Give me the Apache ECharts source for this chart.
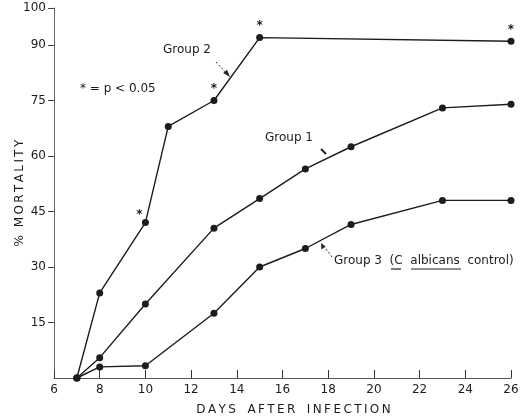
<!DOCTYPE html>
<html lang="en">
<head>
<meta charset="UTF-8">
<title>Mortality after infection</title>
<script src="https://cdn.jsdelivr.net/npm/echarts@6/dist/echarts.min.js"></script>
<style>html,body{margin:0;background:#fff}</style>
</head>
<body>
<div id="main" style="width:529px;height:419px"></div>
<script>
// data (days after infection, % mortality)
var days2 = [7, 8, 10, 11, 13, 15, 26];
var group2 = [0, 23, 42, 68, 75, 92, 91];
var days1 = [7, 8, 10, 13, 15, 17, 19, 23, 26];
var group1 = [0, 5.5, 20, 40.5, 48.5, 56.5, 62.5, 73, 74];
var days3 = [7, 8, 10, 13, 15, 17, 19, 23, 26];
var group3 = [0, 3, 3.3, 17.5, 30, 35, 41.5, 48, 48];
// days where group 2 differs (p < 0.05)
var sigDays = [10, 13, 15, 26];

var ink = '#1c1c1c';
var font = 'DejaVu Sans';

// spread letters a little, like the stencil lettering of the original
function spaced(s) {
    return s.split('').join('\u2009');
}

function pairs(xs, ys) {
    var out = [];
    for (var i = 0; i < xs.length; i++) out.push([xs[i], ys[i]]);
    return out;
}

var data2 = [];
for (var i = 0; i < days2.length; i++) {
    var item = {value: [days2[i], group2[i]]};
    if (sigDays.indexOf(days2[i]) >= 0) {
        item.label = {show: true, formatter: '*', position: 'top', distance: 2,
            fontSize: 12, fontWeight: 'bold', color: ink, fontFamily: font};
        if (days2[i] === 10) item.label.offset = [-6, 4];
    }
    data2.push(item);
}

function lineSeries(name, data) {
    return {
        name: name,
        type: 'line',
        data: data,
        symbol: 'circle',
        symbolSize: 7,
        itemStyle: {color: ink},
        lineStyle: {color: ink, width: 1.4},
        animation: false
    };
}

var myChart = echarts.init(document.getElementById('main'));
var option = {
    backgroundColor: '#fff',
    grid: {left: 54, right: 18, top: 8, bottom: 41, outerBoundsMode: 'none'},
    xAxis: {
        type: 'value', min: 6, max: 26, interval: 2,
        name: spaced('DAYS') + '   ' + spaced('AFTER') + '   ' + spaced('INFECTION'),
        nameLocation: 'middle', nameGap: 26, nameMoveOverlap: false,
        nameTextStyle: {color: ink, fontFamily: font, fontSize: 12, padding: [0, 0, 0, 22]},
        axisLine: {lineStyle: {color: '#555', width: 1}},
        axisTick: {inside: true, length: 8, lineStyle: {color: '#333'}},
        axisLabel: {color: ink, fontFamily: font, fontSize: 12, margin: 6},
        splitLine: {show: false}
    },
    yAxis: {
        type: 'value', min: 0, max: 100, interval: 15,
        name: '%  ' + spaced('MORTALITY'), nameLocation: 'middle', nameGap: 28, nameMoveOverlap: false,
        nameTextStyle: {color: ink, fontFamily: font, fontSize: 12},
        axisLine: {show: true, lineStyle: {color: '#666', width: 1}},
        axisTick: {show: true, length: 6, lineStyle: {color: '#444'}},
        axisLabel: {color: ink, fontFamily: font, fontSize: 12, margin: 8, showMinLabel: false},
        splitLine: {show: false}
    },
    series: [
        lineSeries('Group 2', data2),
        lineSeries('Group 1', pairs(days1, group1)),
        lineSeries('Group 3', pairs(days3, group3))
    ],
    graphic: [
        {type: 'text', left: 163, top: 44, style: {text: 'Group 2', fill: ink, font: '12px "DejaVu Sans"'}},
        {type: 'line', shape: {x1: 216, y1: 62, x2: 229, y2: 76}, style: {stroke: '#333', lineWidth: 1, lineDash: [2, 2]}},
        {type: 'polygon', shape: {points: [[230, 77], [227, 69.8], [223.2, 73]]}, style: {fill: '#222'}},
        {type: 'text', left: 80, top: 83, style: {text: '* = p < 0.05', fill: ink, font: '12px "DejaVu Sans"'}},
        {type: 'text', left: 265, top: 132, style: {text: 'Group 1', fill: ink, font: '12px "DejaVu Sans"'}},
        {type: 'line', shape: {x1: 321, y1: 149, x2: 326, y2: 154}, style: {stroke: '#222', lineWidth: 2}},
        {type: 'text', left: 334, top: 255, style: {text: 'Group 3  (C  albicans  control)', fill: ink, font: '12px "DejaVu Sans"'}},
        {type: 'line', shape: {x1: 391, y1: 269, x2: 401, y2: 269}, style: {stroke: '#222', lineWidth: 1.2}},
        {type: 'line', shape: {x1: 411, y1: 269, x2: 461, y2: 269}, style: {stroke: '#222', lineWidth: 1.2}},
        {type: 'line', shape: {x1: 332, y1: 257, x2: 323, y2: 245}, style: {stroke: '#333', lineWidth: 1, lineDash: [2, 2]}},
        {type: 'polygon', shape: {points: [[321, 243], [321.5, 249.5], [325.5, 246.5]]}, style: {fill: '#222'}}
    ]
};
myChart.setOption(option);
</script>
</body>
</html>
